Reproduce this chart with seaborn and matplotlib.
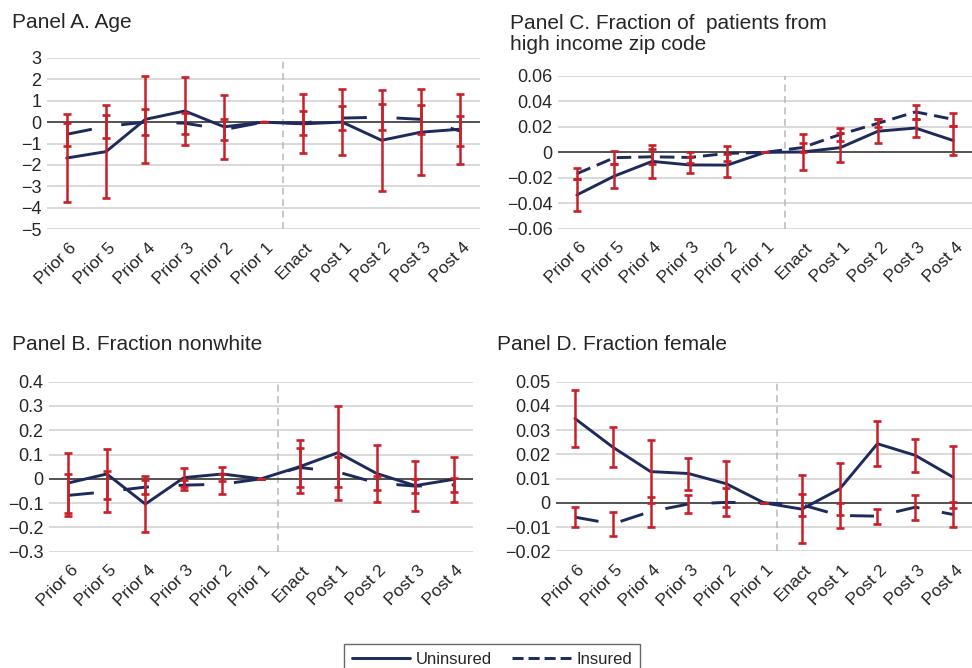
import numpy as np
import pandas as pd
import matplotlib
matplotlib.use("Agg")
import matplotlib.pyplot as plt
from matplotlib.lines import Line2D
from matplotlib.transforms import ScaledTranslation
import seaborn as sns

# Event-time categories shared by all panels
periods = ["Prior 6", "Prior 5", "Prior 4", "Prior 3", "Prior 2", "Prior 1",
           "Enact", "Post 1", "Post 2", "Post 3", "Post 4"]

# Panel A: Age (estimate and 95% CI half-width)
age_unins = [-1.68, -1.38, 0.13, 0.52, -0.22, 0.0, -0.08, 0.0, -0.85, -0.47, -0.33]
age_unins_ci = [2.08, 2.165, 2.04, 1.60, 1.485, 0.0, 1.385, 1.555, 2.355, 2.025, 1.64]
age_ins = [-0.57, -0.20, 0.0, -0.05, -0.35, 0.0, -0.05, 0.19, 0.23, 0.13, -0.42]
age_ins_ci = [0.54, 0.525, 0.61, 0.485, 0.495, 0.0, 0.565, 0.565, 0.605, 0.67, 0.72]

# Panel B: Fraction nonwhite
nonwhite_unins = [-0.017, 0.020, -0.104, 0.005, 0.020, 0.0, 0.050, 0.108, 0.022, -0.028, -0.002]
nonwhite_unins_ci = [0.124, 0.101, 0.115, 0.039, 0.028, 0.0, 0.110, 0.194, 0.118, 0.103, 0.094]
nonwhite_ins = [-0.068, -0.053, -0.034, -0.026, -0.022, 0.0, 0.047, 0.028, -0.017, -0.030, -0.025]
nonwhite_ins_ci = [0.087, 0.085, 0.029, 0.021, 0.041, 0.0, 0.080, 0.062, 0.028, 0.030, 0.030]

# Panel C: Fraction of patients from high income zip code
income_unins = [-0.0335, -0.0186, -0.0071, -0.0099, -0.0100, 0.0, 0.0003, 0.0037, 0.0166, 0.0191, 0.0093]
income_unins_ci = [0.0125, 0.0092, 0.0129, 0.0066, 0.0090, 0.0, 0.0142, 0.0116, 0.0095, 0.0069, 0.0114]
income_ins = [-0.0168, -0.0042, -0.0035, -0.0040, -0.0008, 0.0, 0.0038, 0.0141, 0.0228, 0.0318, 0.0259]
income_ins_ci = [0.0042, 0.0052, 0.0059, 0.0040, 0.0058, 0.0, 0.0038, 0.0048, 0.0032, 0.0058, 0.0053]

# Panel D: Fraction female
female_unins = [0.0348, 0.0230, 0.0129, 0.0121, 0.0079, 0.0, -0.0026, 0.0057, 0.0244, 0.0196, 0.0106]
female_unins_ci = [0.0119, 0.0084, 0.0130, 0.0066, 0.0095, 0.0, 0.0140, 0.0108, 0.0092, 0.0069, 0.0129]
female_ins = [-0.0059, -0.0087, -0.0036, -0.0005, 0.0002, 0.0, -0.0008, -0.0052, -0.0055, -0.0018, -0.0048]
female_ins_ci = [0.0041, 0.0051, 0.0062, 0.0038, 0.0058, 0.0, 0.0045, 0.0050, 0.0031, 0.0051, 0.0053]

# Y-axis ticks and labels
age_ticks = [3, 2, 1, 0, -1, -2, -3, -4, -5]
age_labels = ["3", "2", "1", "0", "\u22121", "\u22122", "\u22123", "\u22124", "\u22125"]
nonwhite_ticks = [0.4, 0.3, 0.2, 0.1, 0, -0.1, -0.2, -0.3]
nonwhite_labels = ["0.4", "0.3", "0.2", "0.1", "0", "\u22120.1", "\u22120.2", "\u22120.3"]
income_ticks = [0.06, 0.04, 0.02, 0, -0.02, -0.04, -0.06]
income_labels = ["0.06", "0.04", "0.02", "0", "\u22120.02", "\u22120.04", "\u22120.06"]
female_ticks = [0.05, 0.04, 0.03, 0.02, 0.01, 0, -0.01, -0.02]
female_labels = ["0.05", "0.04", "0.03", "0.02", "0.01", "0", "\u22120.01", "\u22120.02"]

sns.set_theme(style="white")
plt.rcParams["font.family"] = ["Liberation Sans", "DejaVu Sans"]

NAVY = "#1c2a5c"
RED = "#c8202b"
TEXT = "#262626"
W, H = 972, 668

fig = plt.figure(figsize=(W / 100, H / 100), dpi=100)
fig.patch.set_facecolor("white")


def px_rect(left, right, top, bottom):
    return [left / W, 1 - bottom / H, (right - left) / W, (bottom - top) / H]


panels = [
    dict(title="Panel A. Age", tpos=(12, 28.5),
         rect=px_rect(47, 480, 58, 229), u=age_unins, uci=age_unins_ci,
         i=age_ins, ici=age_ins_ci, ylim=(-5, 3), ticks=age_ticks,
         labels=age_labels, vx=5.5, dash=(8.8, 10.2)),
    dict(title="Panel C. Fraction of  patients from\nhigh income zip code", tpos=(510, 49.5),
         rect=px_rect(558, 972, 76, 228.7), u=income_unins, uci=income_unins_ci,
         i=income_ins, ici=income_ins_ci, ylim=(-0.06, 0.06), ticks=income_ticks,
         labels=income_labels, vx=5.53, dash=(5.0, 2.4)),
    dict(title="Panel B. Fraction nonwhite", tpos=(12, 349.5),
         rect=px_rect(49, 473, 381.7, 551.7), u=nonwhite_unins, uci=nonwhite_unins_ci,
         i=nonwhite_ins, ici=nonwhite_ins_ci, ylim=(-0.3, 0.4), ticks=nonwhite_ticks,
         labels=nonwhite_labels, vx=5.43, dash=(8.8, 10.2)),
    dict(title="Panel D. Fraction female", tpos=(497, 350),
         rect=px_rect(556, 972, 381.7, 551.3), u=female_unins, uci=female_unins_ci,
         i=female_ins, ici=female_ins_ci, ylim=(-0.02, 0.05), ticks=female_ticks,
         labels=female_labels, vx=5.35, dash=(8.2, 7.8)),
]

x = np.arange(len(periods))
LW = 2.1

for p in panels:
    ax = fig.add_axes(p["rect"])
    ax.set_facecolor("white")

    df = pd.DataFrame({
        "pos": np.r_[x, x],
        "value": np.r_[p["u"], p["i"]],
        "group": ["Uninsured"] * len(x) + ["Insured"] * len(x),
    })
    sns.lineplot(data=df, x="pos", y="value", style="group",
                 style_order=["Uninsured", "Insured"],
                 dashes={"Uninsured": "", "Insured": p["dash"]},
                 color=NAVY, lw=LW, estimator=None, legend=False,
                 ax=ax, zorder=3)

    for est, ci in ((p["u"], p["uci"]), (p["i"], p["ici"])):
        ax.errorbar(x, est, yerr=ci, fmt="none", ecolor=RED, elinewidth=1.8,
                    capsize=2.6, capthick=1.9, zorder=4)

    ax.axhline(0, color="#3c3c3c", lw=1.2, zorder=2)
    ax.axvline(p["vx"], color="#b8b8b8", lw=1.1, dashes=(4.5, 3), zorder=1)

    ax.set_xlim(-0.5, len(x) - 0.5)
    ax.set_ylim(*p["ylim"])
    ax.set_yticks(p["ticks"], p["labels"])
    ax.set_xticks(x, periods)
    ax.yaxis.grid(True, color="#cfcfcf", lw=1.1)
    ax.xaxis.grid(False)
    ax.set_axisbelow(True)
    ax.set_xlabel("")
    ax.set_ylabel("")
    sns.despine(ax=ax, left=True, bottom=True)
    ax.tick_params(axis="both", length=0, colors=TEXT)
    ax.tick_params(axis="y", pad=4, labelsize=13)
    ax.tick_params(axis="x", pad=0, labelsize=12.5)

    shift = ScaledTranslation(0.02, -0.11, fig.dpi_scale_trans)
    for lab in ax.get_xticklabels():
        lab.set_rotation(45)
        lab.set_rotation_mode("anchor")
        lab.set_ha("right")
        lab.set_va("top")
        lab.set_transform(lab.get_transform() + shift)

    tx, ty = p["tpos"]
    fig.text(tx / W, 1 - ty / H, p["title"], fontsize=15, color=TEXT,
             ha="left", va="baseline", linespacing=1.1)

handles = [Line2D([], [], color=NAVY, lw=LW),
           Line2D([], [], color=NAVY, lw=LW, dashes=(3.8, 1.7))]
leg = fig.legend(handles, ["Uninsured", "Insured"], loc="upper center",
                 bbox_to_anchor=(492 / W, 1 - 644 / H), ncol=2, frameon=True,
                 fancybox=False, edgecolor="#444444", fontsize=12,
                 handlelength=3.5, handletextpad=0.35, columnspacing=1.2,
                 borderpad=0.45, borderaxespad=0)
leg.get_frame().set_linewidth(1.0)
for t in leg.get_texts():
    t.set_color(TEXT)

fig.savefig("out.png", dpi=100, facecolor="white")
